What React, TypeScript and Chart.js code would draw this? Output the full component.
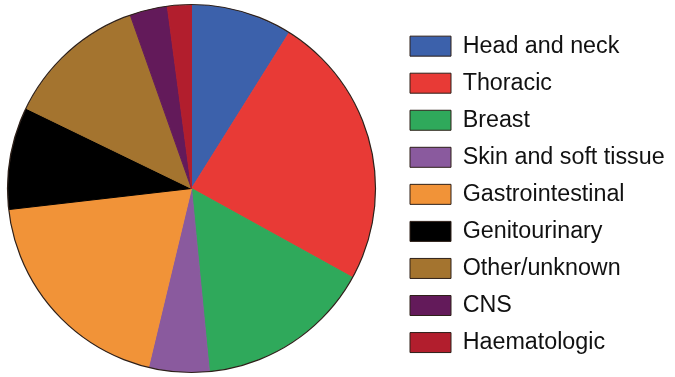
import React, { useEffect, useRef } from "react";
import { Chart, registerables } from "chart.js";

Chart.register(...registerables);

const categories = [
  "Head and neck",
  "Thoracic",
  "Breast",
  "Skin and soft tissue",
  "Gastrointestinal",
  "Genitourinary",
  "Other/unknown",
  "CNS",
  "Haematologic",
];
const shares = [8.9, 24.1, 15.4, 5.3, 19.4, 9.0, 12.4, 3.3, 2.1];
const colors = [
  "#3C61AB",
  "#E83A36",
  "#2FA95B",
  "#8A5A9E",
  "#F19338",
  "#000000",
  "#A4742F",
  "#631A5A",
  "#B21E2D",
];

const LEGEND_PAD = 13.75;
const OUTLINE = "#2e2019";

const placePlugin = {
  id: "placeParts",
  afterLayout(chart: any) {
    const ca = chart.chartArea;
    ca.left = 7.5;
    ca.right = 375.5;
    ca.top = 4.5;
    ca.bottom = 372.5;
    ca.width = 368;
    ca.height = 368;
    const lg = chart.legend;
    if (lg) {
      lg.left = 410 - LEGEND_PAD;
      lg.top = 34.5 - LEGEND_PAD;
      lg.right = 675;
      lg.bottom = lg.top + 370;
      lg.width = lg.right - lg.left;
      lg.height = lg.bottom - lg.top;
    }
  },
  afterDatasetsDraw(chart: any) {
    const meta = chart.getDatasetMeta(0);
    const arc = meta.data[0];
    if (!arc) return;
    const ctx = chart.ctx;
    ctx.save();
    ctx.beginPath();
    ctx.arc(arc.x, arc.y, arc.outerRadius + 0.5, 0, Math.PI * 2);
    ctx.strokeStyle = OUTLINE;
    ctx.lineWidth = 1.2;
    ctx.stroke();
    ctx.restore();
  },
};

export default function App() {
  const ref = useRef<HTMLCanvasElement | null>(null);
  useEffect(() => {
    if (!ref.current) return;
    const chart = new Chart(ref.current, {
      type: "pie",
      data: {
        labels: categories,
        datasets: [
          {
            data: shares,
            backgroundColor: colors,
            borderColor: colors,
            borderWidth: 1,
          },
        ],
      },
      options: {
        responsive: false,
        animation: false,
        layout: { padding: 0 },
        plugins: {
          tooltip: { enabled: false },
          legend: {
            position: "right",
            align: "start",
            labels: {
              boxWidth: 41,
              boxHeight: 20,
              padding: LEGEND_PAD,
              color: "#111111",
              font: { family: '"Liberation Sans", Arial, sans-serif', size: 23.3 },
              generateLabels(chart: any) {
                const base = (Chart as any).overrides.doughnut.plugins.legend.labels.generateLabels(chart);
                return base.map((it: any) => ({
                  ...it,
                  lineWidth: 1,
                  strokeStyle: OUTLINE,
                  fontColor: "#111111",
                }));
              },
            },
          },
        },
      },
      plugins: [placePlugin],
    } as any);
    return () => chart.destroy();
  }, []);
  return (
    <div style={{ position: "absolute", left: 0, top: 0, width: 675, height: 377, background: "#fff" }}>
      <canvas ref={ref} width={675} height={377} style={{ display: "block" }} />
    </div>
  );
}
